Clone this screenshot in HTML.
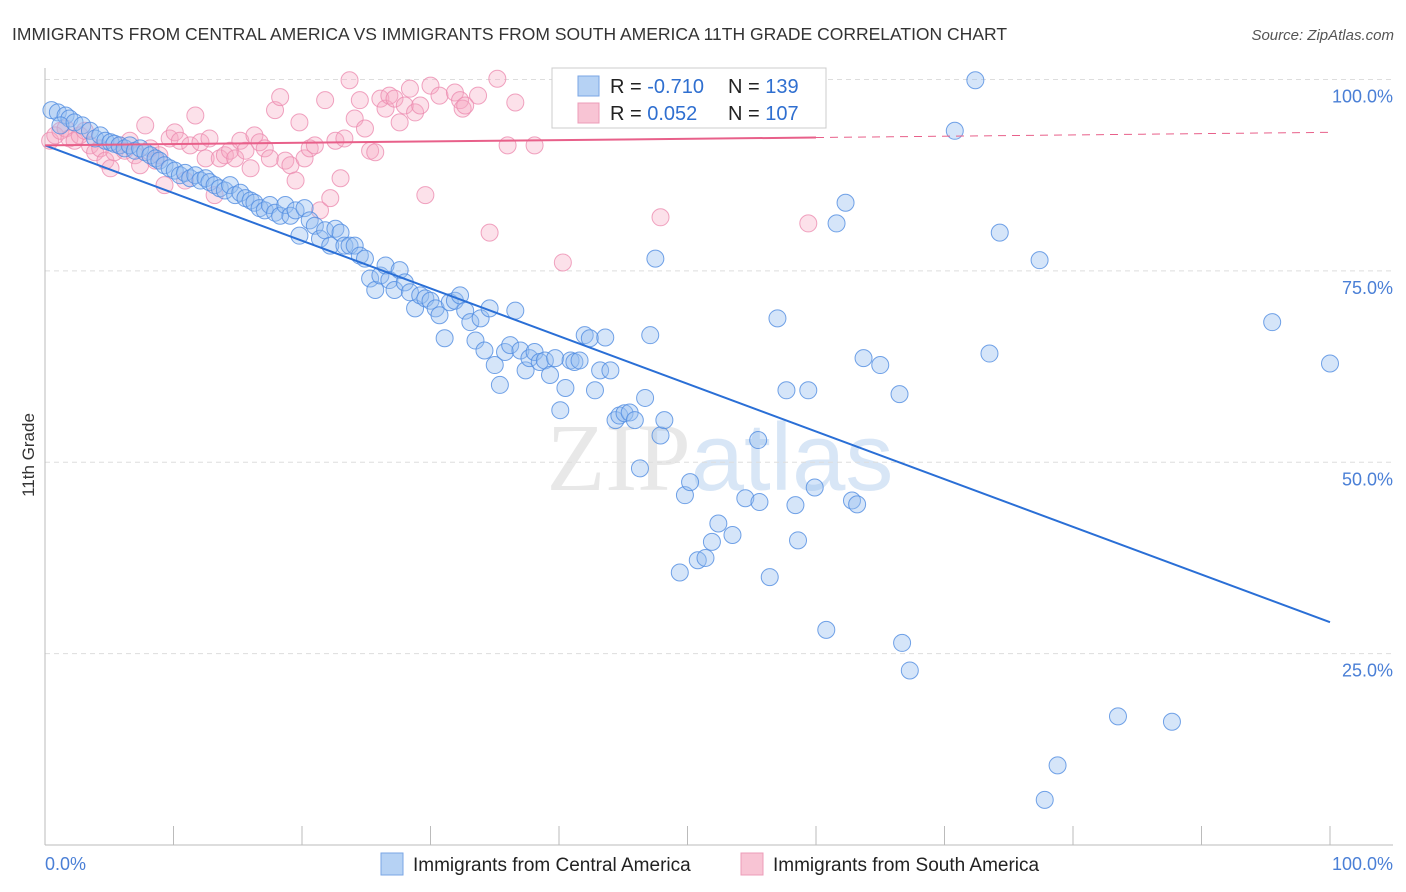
<!DOCTYPE html>
<html><head><meta charset="utf-8">
<style>
body{margin:0;background:#fff;font-family:"Liberation Sans",sans-serif;}
#wrap{position:relative;width:1406px;height:892px;overflow:hidden;}
</style></head>
<body>
<div id="wrap">
<svg id="chart" width="1406" height="892" style="position:absolute;left:0;top:0">
  <text x="12" y="40" font-size="17.5" fill="#333">IMMIGRANTS FROM CENTRAL AMERICA VS IMMIGRANTS FROM SOUTH AMERICA 11TH GRADE CORRELATION CHART</text>
  <text x="1394" y="40" font-size="15" fill="#555" font-style="italic" text-anchor="end">Source: ZipAtlas.com</text>
  <text x="34" y="455" font-size="17" fill="#333" text-anchor="middle" transform="rotate(-90 34 455)">11th Grade</text>
  <text x="720" y="490" font-size="96" fill="#e8e8e8" text-anchor="middle" font-family="Liberation Serif,serif">ZIP<tspan fill="#d8e6f6" font-family="Liberation Sans,sans-serif">atlas</tspan></text>
  <g id="grid"></g>
  <g id="axes"></g>
  <g id="pts"></g>
  <g id="lines"></g>
  <g>
    <rect x="552" y="68" width="274" height="60" fill="#fff" stroke="#ccc"/>
    <rect x="578" y="76" width="21" height="20" fill="#b6d2f4" stroke="#7aa6e4"/>
    <rect x="578" y="103" width="21" height="20" fill="#f8c4d4" stroke="#ec9cb8"/>
    <text x="610" y="93" font-size="20" fill="#222">R = <tspan fill="#2f6fd0">-0.710</tspan></text>
    <text x="728" y="93" font-size="20" fill="#222">N = <tspan fill="#2f6fd0">139</tspan></text>
    <text x="610" y="120" font-size="20" fill="#222">R = <tspan fill="#2f6fd0"> 0.052</tspan></text>
    <text x="728" y="120" font-size="20" fill="#222">N = <tspan fill="#2f6fd0">107</tspan></text>
  </g>
  <g>
    <rect x="381" y="853" width="22" height="22" fill="#b6d2f4" stroke="#7aa6e4"/>
    <text x="413" y="871" font-size="19" fill="#222">Immigrants from Central America</text>
    <rect x="741" y="853" width="22" height="22" fill="#f8c4d4" stroke="#ec9cb8"/>
    <text x="773" y="871" font-size="19" fill="#222">Immigrants from South America</text>
  </g>
</svg>
</div>
<script>
const yTicks=[25,50,75,100];
const yTickLabels=["25.0%","50.0%","75.0%","100.0%"];
const xTicks=[0,10,20,30,40,50,60,70,80,90,100];
const centralX=[0.5,1.0,1.6,1.9,1.2,2.3,2.9,3.5,3.9,4.3,4.7,5.1,5.4,5.8,6.2,6.6,7.0,7.4,7.8,8.2,8.6,8.9,9.3,9.7,10.1,10.5,10.9,11.3,11.7,12.1,12.5,12.8,13.2,13.6,14.0,14.4,14.8,15.2,15.6,16.0,16.3,16.7,17.1,17.5,17.9,18.3,18.7,19.1,19.5,19.8,20.2,20.6,21.0,21.4,21.8,22.2,22.6,23.0,23.3,23.7,24.1,24.5,24.9,25.3,25.7,26.1,26.5,26.8,27.2,27.6,28.0,28.4,28.8,29.2,29.6,30.0,30.4,30.7,31.1,31.5,31.9,32.3,32.7,33.1,33.5,33.9,34.2,34.6,35.0,35.4,35.8,36.2,36.6,37.0,37.4,37.7,38.1,38.5,38.9,39.3,39.7,40.1,40.5,40.9,41.2,41.6,42.0,42.4,42.8,43.2,43.6,44.0,44.4,44.7,45.1,45.5,45.9,46.3,46.7,47.1,47.5,47.9,48.2,49.4,49.8,50.2,50.8,51.4,51.9,52.4,53.5,54.5,55.5,55.6,56.4,57.0,57.7,58.4,58.6,59.4,59.9,60.8,61.6,62.3,62.8,63.2,63.7,65.0,66.5,66.7,67.3,70.8,72.4,73.5,74.3,77.4,77.8,78.8,83.5,87.7,95.5,100,54.2];
const centralY=[96.0,95.7,95.3,94.9,94.0,94.4,94.0,93.3,92.3,92.7,92.0,91.8,91.6,91.4,91.0,91.4,90.7,91.0,90.5,90.1,89.7,89.4,88.8,88.4,88.1,87.5,87.8,87.1,87.5,86.8,87.1,86.6,86.2,85.8,85.5,86.2,84.9,85.2,84.5,84.2,83.9,83.2,82.9,83.6,82.6,82.2,83.6,82.2,82.9,79.6,83.2,81.6,80.9,79.2,80.3,78.3,80.5,80.0,78.3,78.3,78.3,77.0,76.6,74.0,72.5,74.4,75.7,73.8,72.5,75.1,73.5,72.2,70.1,71.8,71.4,71.1,70.1,69.2,66.2,70.9,71.1,71.8,69.8,68.3,65.9,68.8,64.6,70.1,62.7,60.1,64.4,65.3,69.8,64.6,62.0,63.6,64.4,63.1,63.3,61.4,63.6,56.8,59.7,63.3,63.1,63.3,66.6,66.2,59.4,62.0,66.3,62.0,55.5,56.1,56.4,56.5,55.5,49.2,58.4,66.6,76.6,53.5,55.5,35.6,45.7,47.4,37.2,37.5,39.6,42.0,40.5,45.3,52.9,44.8,35.0,68.8,59.4,44.4,39.8,59.4,46.7,28.1,81.2,83.9,45.0,44.5,63.6,62.7,58.9,26.4,22.8,93.3,99.9,64.2,80.0,76.4,5.9,10.4,16.8,16.1,68.3,62.9,99.9];
const southX=[0.4,0.8,1.2,1.6,1.9,2.3,2.7,3.1,3.5,3.9,4.3,4.7,5.1,5.4,5.8,6.2,6.6,7.0,7.4,7.8,8.2,8.6,8.9,9.3,9.7,10.1,10.5,10.9,11.3,11.7,12.1,12.5,12.8,13.2,13.6,14.0,14.4,14.8,15.2,15.6,16.0,16.3,16.7,17.1,17.5,17.9,18.3,18.7,19.1,19.5,19.8,20.2,20.6,21.0,21.4,21.8,22.2,22.6,23.0,23.3,23.7,24.1,24.5,24.9,25.3,25.7,26.1,26.5,26.8,27.2,27.6,28.0,28.4,28.8,29.2,29.6,30.0,30.7,31.9,32.3,32.5,32.7,33.7,34.6,35.2,36.0,36.6,38.1,40.3,42.0,43.6,47.9,59.4,54.5,55.6];
const southY=[92.0,92.7,93.3,93.6,92.3,92.0,92.7,93.3,91.4,90.5,91.0,89.4,88.4,90.5,91.4,90.7,92.0,90.1,88.8,94.0,91.0,89.4,90.1,86.2,92.3,93.1,92.0,86.8,91.4,95.3,91.8,89.7,92.3,84.9,89.7,90.1,90.7,89.7,92.0,90.7,88.4,92.7,91.8,91.0,89.7,96.0,97.7,89.4,88.8,86.8,94.4,89.7,91.0,91.4,82.9,97.3,84.5,92.0,87.1,92.3,99.9,94.9,97.3,93.6,90.7,90.5,97.5,96.2,97.9,97.5,94.4,96.6,98.8,95.7,96.6,84.9,99.2,97.9,98.3,97.3,96.2,96.6,97.9,80.0,100.1,91.4,97.0,91.4,76.1,99.2,100.1,82.0,81.2,96.6,100.1];
const centralTrend=[91.4,29.1];
const southTrend=[91.4,93.1];

const NS="http://www.w3.org/2000/svg";
const X0=45,X1=1330,Y0=845,Y100=79.5;
const sx=v=>X0+(X1-X0)*v/100;
const sy=v=>Y0-(Y0-Y100)*v/100;
function mk(tag,attrs,parent){const e=document.createElementNS(NS,tag);for(const k in attrs)e.setAttribute(k,attrs[k]);parent.appendChild(e);return e;}
const grid=document.getElementById('grid'),axes=document.getElementById('axes'),pts=document.getElementById('pts'),lines=document.getElementById('lines');
yTicks.forEach((t,i)=>{
  const l=mk('line',{x1:X0,x2:1393,y1:sy(t),y2:sy(t),stroke:'#ddd','stroke-dasharray':'5,4'},grid);
  
  
  const tx=mk('text',{x:1393,y:sy(t)+23,'font-size':18,fill:'#4a7fd6','text-anchor':'end'},axes);
  tx.textContent=yTickLabels[i];
  
  
});
mk('line',{x1:X0,x2:X0,y1:68,y2:Y0,stroke:'#bbb'},axes);
mk('line',{x1:X0,x2:1393,y1:Y0,y2:Y0,stroke:'#bbb'},axes);
xTicks.forEach(t=>{
  const l=mk('line',{x1:sx(t),x2:sx(t),y1:826,y2:Y0,stroke:'#bbb'},axes);
  
  
});
const xl=mk('text',{x:45,y:870,'font-size':18,fill:'#4a7fd6'},axes);xl.textContent='0.0%';


const xr=mk('text',{x:1393,y:870,'font-size':18,fill:'#4a7fd6','text-anchor':'end'},axes);xr.textContent='100.0%';


southX.forEach((x,i)=>{
  const c=mk('circle',{cx:sx(x),cy:sy(southY[i]),r:8.5,fill:'rgba(245,170,196,0.35)',stroke:'rgba(236,140,176,0.8)','stroke-width':1},pts);
  
  
});
centralX.forEach((x,i)=>{
  const c=mk('circle',{cx:sx(x),cy:sy(centralY[i]),r:8.5,fill:'rgba(150,190,240,0.4)',stroke:'rgba(80,140,225,0.8)','stroke-width':1},pts);
  
  
});
const bl=mk('line',{x1:sx(0),y1:sy(centralTrend[0]),x2:sx(100),y2:sy(centralTrend[1]),stroke:'#2a6fd6','stroke-width':2},lines);


const sm=southTrend[0]+(southTrend[1]-southTrend[0])*0.6;
const pl=mk('line',{x1:sx(0),y1:sy(southTrend[0]),x2:sx(60),y2:sy(sm),stroke:'#e8608a','stroke-width':2},lines);


const pd=mk('line',{x1:sx(60),y1:sy(sm),x2:sx(100),y2:sy(southTrend[1]),stroke:'#e8608a','stroke-width':1,'stroke-dasharray':'8,6'},lines);


</script>
</body></html>
